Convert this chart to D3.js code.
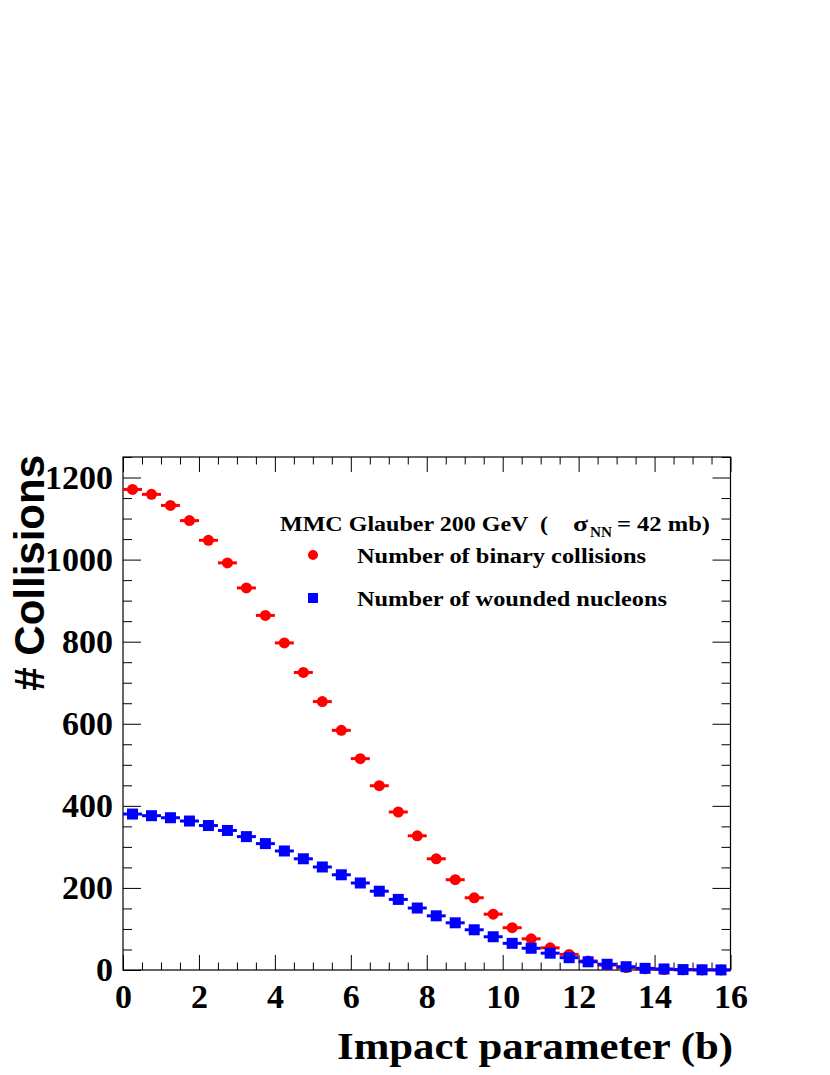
<!DOCTYPE html>
<html>
<head>
<meta charset="utf-8">
<script src="https://cdn.jsdelivr.net/npm/d3@7"></script>
<style>
  html, body { margin: 0; padding: 0; background: #fff; }
  svg { display: block; }
</style>
</head>
<body>
<svg id="chart" width="830" height="1075"></svg>
<script>
// ---- data ----
const binCenters = [0.25,0.75,1.25,1.75,2.25,2.75,3.25,3.75,4.25,4.75,5.25,5.75,6.25,6.75,7.25,7.75,
                    8.25,8.75,9.25,9.75,10.25,10.75,11.25,11.75,12.25,12.75,13.25,13.75,14.25,14.75,15.25,15.75];
const binaryCollisions = [1171,1159,1132,1095,1047,992,931,864,797,725,654,584,515,449,385,327,
                          271,220,176,136,103,76,54,38,22,12,6,3,1.2,0.5,0.2,0.1];
const woundedNucleons = [380,376,371,363,352,340,325,308,290,271,251,232,212,192,172,151,
                         132,115,98,81,65,53,41,30,20,14,8,4,2.5,1,0.5,0.2];
const binHalfWidth = 0.25;
const xTickValues = [0,2,4,6,8,10,12,14,16];
const yTickValues = [0,200,400,600,800,1000,1200];
const xDomain = [0,16];
const yDomain = [0,1250];
const legendTitle = "MMC Glauber 200 GeV  (";
const legendSigma = "σ";
const legendSub = "NN";
const legendTail = "= 42 mb)";
const seriesLabels = ["Number of binary collisions", "Number of wounded nucleons"];
const xTitle = "Impact parameter (b)";
const yTitle = "# Collisions";

// ---- layout ----
const L = 123, R = 730.5, T = 457, B = 970;
const svg = d3.select("#chart");
svg.append("rect").attr("width",830).attr("height",1075).attr("fill","#fff");

const x = d3.scaleLinear().domain(xDomain).range([L,R]);
const y = d3.scaleLinear().domain(yDomain).range([B,T]);

const serif = "'Liberation Serif','Times New Roman',serif";
const sans = "'Liberation Sans',Arial,Helvetica,sans-serif";

const xMinor = d3.range(0,16.001,0.5).filter(v => v % 2 !== 0);
const yMinor = d3.range(0,1250.001,50).filter(v => v % 200 !== 0);

function styleAxis(g){
  g.select(".domain").remove();
  g.selectAll("line").attr("stroke","#000").attr("stroke-width",1);
  g.selectAll("text").attr("font-family",serif).attr("font-weight","bold").attr("font-size",34).attr("fill","#000")
    .each(function(){
      const n = this.textContent.length;
      if (n) d3.select(this).attr("textLength", 17*n).attr("lengthAdjust","spacingAndGlyphs");
    });
}

// bottom axis
svg.append("g").attr("transform",`translate(0,${B})`)
  .call(d3.axisBottom(x).tickValues(xTickValues).tickSize(-15).tickPadding(14).tickFormat(d3.format("d")))
  .call(styleAxis);
svg.append("g").attr("transform",`translate(0,${B})`)
  .call(d3.axisBottom(x).tickValues(xMinor).tickSize(-7.5).tickFormat(""))
  .call(styleAxis);
// top axis
svg.append("g").attr("transform",`translate(0,${T})`)
  .call(d3.axisTop(x).tickValues(xTickValues).tickSize(-15).tickFormat(""))
  .call(styleAxis);
svg.append("g").attr("transform",`translate(0,${T})`)
  .call(d3.axisTop(x).tickValues(xMinor).tickSize(-7.5).tickFormat(""))
  .call(styleAxis);
// left axis
svg.append("g").attr("transform",`translate(${L},0)`)
  .call(d3.axisLeft(y).tickValues(yTickValues).tickSize(-18).tickPadding(10).tickFormat(d3.format("d")))
  .call(styleAxis);
svg.append("g").attr("transform",`translate(${L},0)`)
  .call(d3.axisLeft(y).tickValues(yMinor).tickSize(-9).tickFormat(""))
  .call(styleAxis);
// right axis
svg.append("g").attr("transform",`translate(${R},0)`)
  .call(d3.axisRight(y).tickValues(yTickValues).tickSize(-18).tickFormat(""))
  .call(styleAxis);
svg.append("g").attr("transform",`translate(${R},0)`)
  .call(d3.axisRight(y).tickValues(yMinor).tickSize(-9).tickFormat(""))
  .call(styleAxis);

// frame
svg.append("rect").attr("x",L).attr("y",T).attr("width",R-L).attr("height",B-T)
  .attr("fill","none").attr("stroke","#000").attr("stroke-width",1.2);

// ---- series ----
function drawSeries(values, color, shape){
  const g = svg.append("g");
  const data = binCenters.map((c,i) => ({c, v: values[i]}));
  g.selectAll("line.err").data(data).join("line").attr("class","err")
    .attr("x1",d => x(d.c - binHalfWidth)).attr("x2",d => x(d.c + binHalfWidth))
    .attr("y1",d => y(d.v)).attr("y2",d => y(d.v))
    .attr("stroke",color).attr("stroke-width",3);
  if (shape === "circle") {
    g.selectAll("circle").data(data).join("circle")
      .attr("cx",d => x(d.c)).attr("cy",d => y(d.v)).attr("r",5.5).attr("fill",color);
  } else {
    g.selectAll("rect").data(data).join("rect")
      .attr("x",d => x(d.c) - 5.5).attr("y",d => y(d.v) - 5.5)
      .attr("width",11).attr("height",11).attr("fill",color);
  }
}
drawSeries(binaryCollisions, "#ff0000", "circle");
drawSeries(woundedNucleons, "#0000ff", "square");

// ---- legend ----
function stretchText(sel, width){
  sel.attr("textLength", width).attr("lengthAdjust","spacingAndGlyphs");
  return sel;
}
const lg = svg.append("g").attr("font-family",serif).attr("font-weight","bold").attr("fill","#000");
stretchText(lg.append("text").attr("x",280).attr("y",531).attr("font-size",20).attr("xml:space","preserve").text(legendTitle), 268);
stretchText(lg.append("text").attr("x",573).attr("y",531).attr("font-size",22).text(legendSigma), 15);
stretchText(lg.append("text").attr("x",590).attr("y",537).attr("font-size",14).text(legendSub), 22);
stretchText(lg.append("text").attr("x",617).attr("y",531).attr("font-size",20).text(legendTail), 93);

lg.append("circle").attr("cx",313).attr("cy",555).attr("r",5).attr("fill","#ff0000");
lg.append("rect").attr("x",308).attr("y",593).attr("width",10).attr("height",10).attr("fill","#0000ff");
stretchText(lg.append("text").attr("x",357).attr("y",563).attr("font-size",20).text(seriesLabels[0]), 289);
stretchText(lg.append("text").attr("x",357).attr("y",606).attr("font-size",20).text(seriesLabels[1]), 310);

// ---- axis titles ----
stretchText(svg.append("text").attr("x",337).attr("y",1059)
  .attr("font-family",serif).attr("font-weight","bold").attr("font-size",38).text(xTitle), 396);
svg.append("text").attr("transform","translate(44,455) rotate(-90)").attr("text-anchor","end")
  .attr("font-family",sans).attr("font-weight","bold").attr("font-size",42).text(yTitle);
</script>
</body>
</html>
